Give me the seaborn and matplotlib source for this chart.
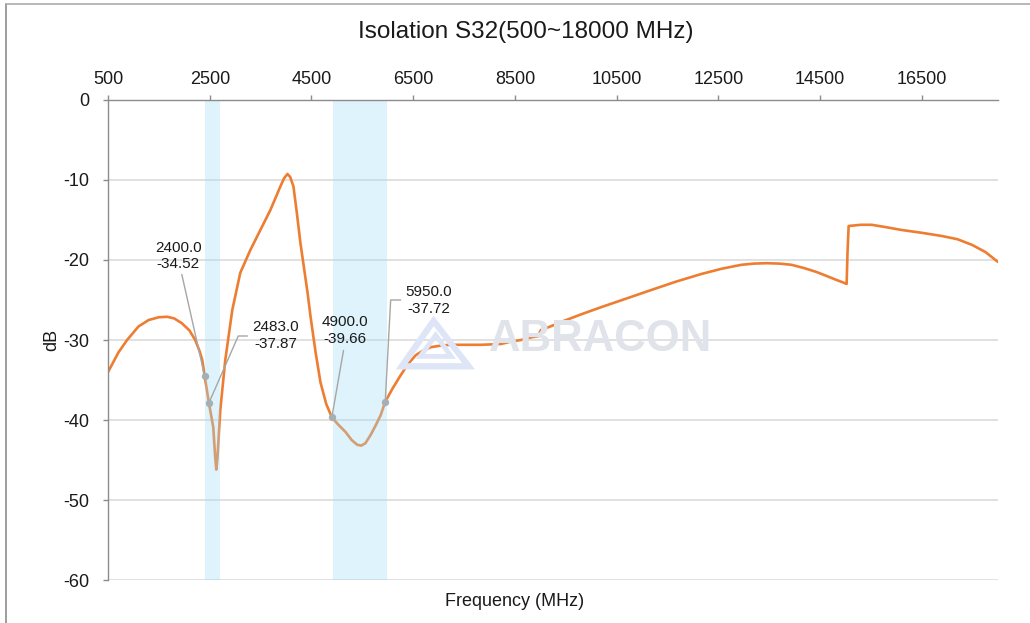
import numpy as np
import pandas as pd
import matplotlib
matplotlib.use("Agg")
import matplotlib.pyplot as plt
import seaborn as sns
from matplotlib.lines import Line2D
from matplotlib.patches import Polygon

# ---- data ----
freq_mhz = [500, 700, 874, 1100, 1300, 1500, 1663, 1800, 1950, 2100, 2214, 2300, 2352, 2400, 2483,
            2569, 2605, 2628, 2650, 2707, 2805, 2943, 3100, 3298, 3495, 3692, 3889, 3960, 4027, 4080,
            4145, 4210, 4283, 4421, 4480, 4580, 4677, 4790,
            4900, 5030, 5170, 5290, 5400, 5480, 5560, 5660, 5760, 5860, 5950, 6100, 6254, 6400,
            6550, 6700, 6845, 7040, 7240, 7530, 7830, 8030, 8224, 8420, 8618, 8800, 8973, 8990,
            9012, 9200, 9406, 9800, 10194, 10700, 11180, 11670, 12165, 12560, 12953, 13200,
            13446, 13700, 13938, 14180, 14431, 14630, 14825, 14950, 15022, 15040, 15062, 15300,
            15515, 15800, 16106, 16500, 16894, 17200, 17485, 17750, 18000]
s32_db = [-34.0, -31.6, -30.0, -28.3, -27.5, -27.15, -27.1, -27.3, -27.9, -28.8, -30.0, -31.4,
          -32.5, -34.52, -37.87, -40.9, -44.5, -46.2, -44.8, -38.75, -32.5, -26.25, -21.6, -18.75,
          -16.25, -13.75, -10.8, -9.8, -9.25, -9.6, -10.8, -14.0, -17.9, -24.0, -27.0, -31.5,
          -35.3, -38.0, -39.66, -40.6, -41.5, -42.5, -43.1, -43.2, -42.9,
          -41.9, -40.7, -39.4, -37.72, -36.0, -34.4, -33.0, -31.9, -31.3, -30.9, -30.7, -30.6,
          -30.6, -30.6, -30.55, -30.5, -30.2, -30.0, -29.7, -29.5, -29.0, -28.75, -28.3, -27.75,
          -26.8, -25.9, -24.8, -23.75, -22.7, -21.75, -21.1, -20.6, -20.45, -20.4, -20.45, -20.6,
          -21.0, -21.5, -22.0, -22.5, -22.8, -23.0, -19.0, -15.75, -15.6, -15.6, -15.9, -16.25,
          -16.6, -17.0, -17.4, -18.1, -19.0, -20.25]

band_starts = [2400, 4920]
band_ends = [2700, 5990]

marker_freqs = [2400.0, 2483.0, 4900.0, 5950.0]
marker_vals = [-34.52, -37.87, -39.66, -37.72]

x_ticks = [500, 2500, 4500, 6500, 8500, 10500, 12500, 14500, 16500]
y_ticks = [0, -10, -20, -30, -40, -50, -60]

title = "Isolation S32(500~18000 MHz)"

# ---- plot ----
sns.set_theme(style="white")
plt.rcParams['font.family'] = ['Liberation Sans', 'DejaVu Sans']
plt.rcParams['axes.unicode_minus'] = False

fig = plt.figure(figsize=(10.30, 6.23), dpi=100)
ax = fig.add_axes([0.1049, 0.069, 0.8641, 0.7705])

df = pd.DataFrame({"Frequency (MHz)": freq_mhz, "dB": s32_db})

# watermark
fig.text(0.583, 0.455, "ABRACON", fontsize=31.5, fontweight="bold", color="#E1E3EB",
         ha="center", va="center", family=["Liberation Sans", "DejaVu Sans"], zorder=0)
tri_outer = Polygon([[0.390, 0.412], [0.455, 0.412], [0.421, 0.485]], closed=True, fill=False,
                    edgecolor="#DDE5F6", linewidth=4.5, transform=fig.transFigure, zorder=0)
tri_inner = Polygon([[0.408, 0.428], [0.438, 0.428], [0.423, 0.462]], closed=True, fill=False,
                    edgecolor="#DDE5F6", linewidth=3.5, transform=fig.transFigure, zorder=0)
fig.patches.extend([tri_outer, tri_inner])
ax.patch.set_alpha(0)

sns.lineplot(data=df, x="Frequency (MHz)", y="dB", ax=ax, color="#ED7D31", linewidth=1.9,
             zorder=3)

for s, e in zip(band_starts, band_ends):
    ax.axvspan(s, e, color="#A1DDF6", alpha=0.35, lw=0, zorder=4)

ax.scatter(marker_freqs, marker_vals, s=28, color="#A5AFB4", zorder=6, linewidths=0)

ax.set_xlim(500, 18000)
ax.set_ylim(-60, 0)
ax.set_xticks(x_ticks)
ax.set_yticks(y_ticks)
ax.xaxis.tick_top()
ax.tick_params(axis="x", which="both", top=True, bottom=False, direction="out", length=3.6,
               width=1, color="#8C8C8C", labelsize=13, pad=5, labelcolor="#1a1a1a")
ax.tick_params(axis="y", left=True, direction="out", length=3.6, width=1, color="#8C8C8C",
               labelsize=13, pad=10, labelcolor="#1a1a1a")
for y in y_ticks[1:]:
    ax.axhline(y, color="#D9D9D9", linewidth=1.1, zorder=1)

for side in ["right", "bottom"]:
    ax.spines[side].set_visible(False)
for side in ["left", "top"]:
    ax.spines[side].set_color("#8C8C8C")
    ax.spines[side].set_linewidth(1.0)
    ax.spines[side].set_zorder(5)

ax.set_xlabel("Frequency (MHz)", fontsize=13, color="#1a1a1a")
ax.xaxis.set_label_position("bottom")
ax.xaxis.set_label_coords(0.457, -0.028)
ax.set_ylabel("dB", fontsize=13, color="#1a1a1a", labelpad=2)

fig.text(0.51, 0.949, title, fontsize=17.5, ha="center", va="center", color="#1a1a1a")

# annotations with leader lines
ann_color = "#A6A6A6"
txt_kw = dict(fontsize=11, color="#1a1a1a", ha="center", va="center", zorder=7,
              linespacing=1.25)

def lab(fr, v):
    return f"{fr:.1f}\n{v:.2f}"

ax.text(1880, -19.5, lab(marker_freqs[0], marker_vals[0]), **txt_kw)
ax.plot([1950, marker_freqs[0]], [-21.8, marker_vals[0]], color=ann_color, lw=1, zorder=5)

ax.text(3790, -29.4, lab(marker_freqs[1], marker_vals[1]), **txt_kw)
ax.plot([marker_freqs[1], 3060, 3240], [marker_vals[1], -29.5, -29.5], color=ann_color,
        lw=1, zorder=5)

ax.text(5150, -28.8, lab(marker_freqs[2], marker_vals[2]), **txt_kw)
ax.plot([marker_freqs[2], 5130], [marker_vals[2], -31.3], color=ann_color, lw=1, zorder=5)

ax.text(6800, -25.1, lab(marker_freqs[3], marker_vals[3]), **txt_kw)
ax.plot([marker_freqs[3], 6057, 6254], [marker_vals[3], -25.0, -25.0], color=ann_color,
        lw=1, zorder=5)

# figure frame (top & left)
fig.add_artist(Line2D([0.006, 0.006], [0.0, 0.994], transform=fig.transFigure,
                      color="#8C8C8C", lw=1.2))
fig.add_artist(Line2D([0.006, 1.0], [0.994, 0.994], transform=fig.transFigure,
                      color="#ABABAB", lw=1.2))

fig.savefig("out.png", dpi=100)
